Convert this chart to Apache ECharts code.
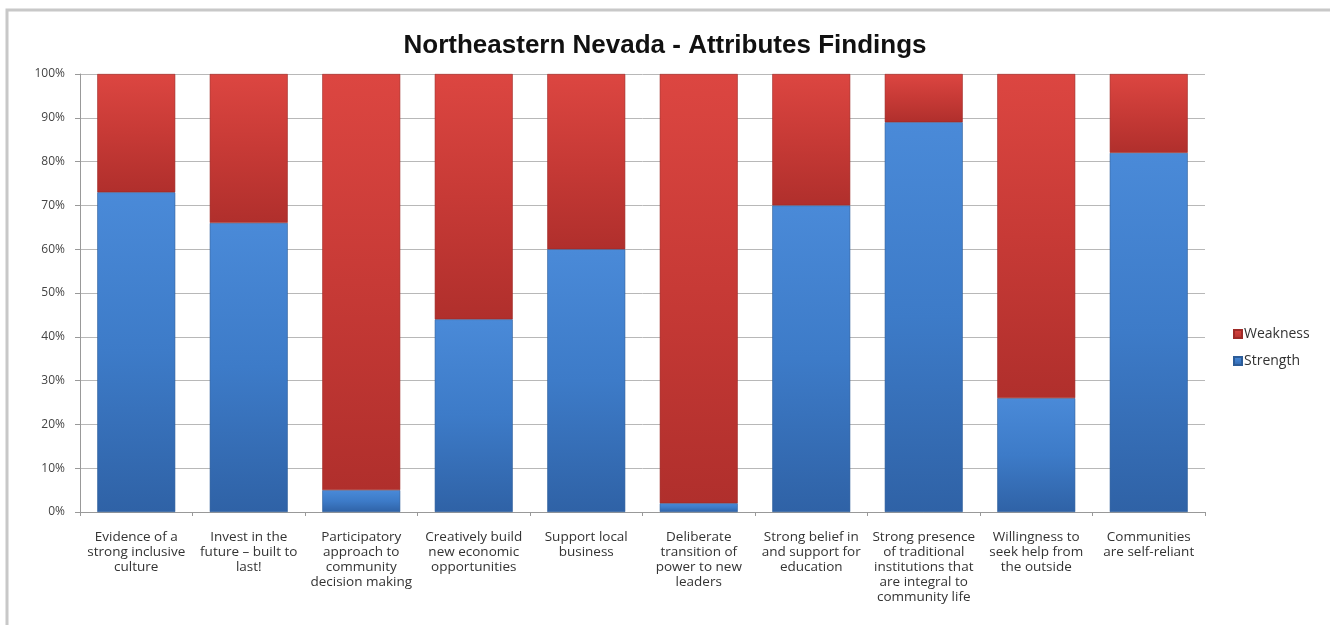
<!DOCTYPE html>
<html><head><meta charset="utf-8">
<script src="https://cdn.jsdelivr.net/npm/echarts@6/dist/echarts.min.js"></script>
<style>html,body{margin:0;padding:0;background:#fff}#c{width:1330px;height:625px}</style>
</head><body><div id="c"></div>
<script>
var categories = [
  "Evidence of a\nstrong inclusive\nculture",
  "Invest in the\nfuture \u2013 built to\nlast!",
  "Participatory\napproach to\ncommunity\ndecision making",
  "Creatively build\nnew economic\nopportunities",
  "Support local\nbusiness",
  "Deliberate\ntransition of\npower to new\nleaders",
  "Strong belief in\nand support for\neducation",
  "Strong presence\nof traditional\ninstitutions that\nare integral to\ncommunity life",
  "Willingness to\nseek help from\nthe outside",
  "Communities\nare self-reliant"
];
var strength = [73, 66, 5, 44, 60, 2, 70, 89, 26, 82];
var weakness = [27, 34, 95, 56, 40, 98, 30, 11, 74, 18];
var yTicks = [0, 10, 20, 30, 40, 50, 60, 70, 80, 90, 100];

var chart = echarts.init(document.getElementById('c'), null, {renderer: 'canvas'});
function grad(top, mid, bot) {
  return new echarts.graphic.LinearGradient(0, 0, 0, 1, [
    {offset: 0, color: top}, {offset: 0.5, color: mid}, {offset: 1, color: bot}
  ]);
}
chart.setOption({
  backgroundColor: '#fff',
  animation: false,
  graphic: [{
    type: 'rect', shape: {x: 7, y: 10, width: 1340, height: 700},
    style: {fill: 'none', stroke: '#c8c8c8', lineWidth: 3}, z: 0
  }],
  title: {
    text: 'Northeastern Nevada - Attributes Findings',
    left: 'center', top: 28,
    textStyle: {fontFamily: 'Liberation Sans', fontWeight: 'bold', fontSize: 26, color: '#111'}
  },
  legend: {
    orient: 'vertical', left: 1228, top: 322, itemGap: 13,
    itemWidth: 8, itemHeight: 8, icon: 'rect',
    data: ['Weakness', 'Strength'],
    textStyle: {fontFamily: 'Open Sans', fontSize: 14, color: '#333', padding: [0, 0, 0, -3]}
  },
  grid: {left: 80, right: 125, top: 74, bottom: 113, containLabel: false},
  xAxis: {
    type: 'category', data: categories,
    axisLine: {lineStyle: {color: '#999'}},
    axisTick: {show: true, length: 4, lineStyle: {color: '#999'}},
    axisLabel: {interval: 0, fontFamily: 'Open Sans', fontSize: 13.5, color: '#333', lineHeight: 15, margin: 18}
  },
  yAxis: {
    type: 'value', min: 0, max: 100, interval: 10,
    axisLine: {show: true, lineStyle: {color: '#999'}},
    axisTick: {show: true, length: 5, lineStyle: {color: '#999'}},
    splitLine: {lineStyle: {color: '#b8b8b8'}},
    axisLabel: {formatter: function (v) { return yTicks.indexOf(v) >= 0 ? v + '%' : ''; },
      fontFamily: 'Open Sans', fontSize: 12, color: '#444', margin: 15}
  },
  series: [{
    name: 'Strength', type: 'bar', stack: 'a', data: strength, barWidth: 78,
    itemStyle: {color: grad('#4a8ad8', '#3d7bc8', '#2f62a6'), borderColor: '#2c5c98', borderWidth: 0.6}
  }, {
    name: 'Weakness', type: 'bar', stack: 'a', data: weakness, barWidth: 78,
    itemStyle: {color: grad('#dc4641', '#c73a36', '#b02f2c'), borderColor: '#9e2a27', borderWidth: 0.6}
  }],
  color: ['#3d7bc8', '#c73a36']
});
</script></body></html>
